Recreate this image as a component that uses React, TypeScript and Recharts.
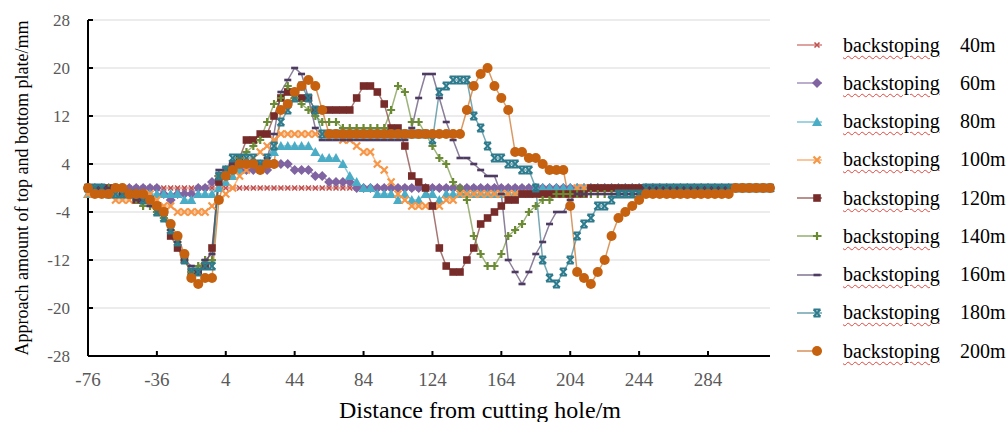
import React from "react";
import { LineChart, Line, XAxis, YAxis, CartesianGrid, Legend } from "recharts";

// distance from cutting hole (m), one category every 4 m
const distance = [
  -76, -72, -68, -64, -60, -56, -52, -48, -44, -40,
  -36, -32, -28, -24, -20, -16, -12, -8, -4, 0,
  4, 8, 12, 16, 20, 24, 28, 32, 36, 40,
  44, 48, 52, 56, 60, 64, 68, 72, 76, 80,
  84, 88, 92, 96, 100, 104, 108, 112, 116, 120,
  124, 128, 132, 136, 140, 144, 148, 152, 156, 160,
  164, 168, 172, 176, 180, 184, 188, 192, 196, 200,
  204, 208, 212, 216, 220, 224, 228, 232, 236, 240,
  244, 248, 252, 256, 260, 264, 268, 272, 276, 280,
  284, 288, 292, 296, 300, 304, 308, 312, 316, 320,
];

const backstoping40 = [
  0, 0, 0, 0, 0, 0, 0, 0, 0, 0,
  0, 0, 0, 0, 0, 0, 0, 0, 0, 0,
  0, 0, 0, 0, 0, 0, 0, 0, 0, 0,
  0, 0, 0, 0, 0, 0, 0, 0, 0, 0,
  0, 0, 0, 0, 0, 0, 0, 0, 0, 0,
  0, 0, 0, 0, 0, 0, 0, 0, 0, 0,
  0, 0, 0, 0, 0, 0, 0, 0, 0, 0,
  0, 0, 0, 0, 0, 0, 0, 0, 0, 0,
  0, 0, 0, 0, 0, 0, 0, 0, 0, 0,
  0, 0, 0, 0, 0, 0, 0, 0, 0, 0,
];

const backstoping60 = [
  0, 0, 0, 0, 0, 0, 0, 0, 0, 0,
  0, -1, -2, -1, -1, -1, 0, 0, 1, 2,
  3, 3, 3, 3, 3, 3, 3, 4, 4, 4,
  3, 3, 3, 2, 2, 1, 1, 1, 1, 0,
  0, 0, 0, 0, 0, 0, 0, 0, 0, 0,
  0, 0, 0, 0, 0, 0, 0, 0, 0, 0,
  0, 0, 0, 0, 0, 0, 0, 0, 0, 0,
  0, 0, 0, 0, 0, 0, 0, 0, 0, 0,
  0, 0, 0, 0, 0, 0, 0, 0, 0, 0,
  0, 0, 0, 0, 0, 0, 0, 0, 0, 0,
];

const backstoping80 = [
  -1, -1, -1, -1, -1, -1, -1, -1, -1, -1,
  -1, -1, -1, -1, -2, -2, -1, -1, -1, 0,
  1, 2, 3, 4, 4, 4, 4, 6, 7, 7,
  7, 7, 7, 6, 5, 5, 5, 4, 2, 1,
  0, 0, -1, -1, -1, -2, -1, -2, -2, -1,
  -1, -2, -1, -1, -1, -1, -1, -1, -1, -1,
  -1, -1, -1, -1, -1, 0, 0, 0, 0, 0,
  0, 0, 0, 0, 0, 0, 0, 0, 0, 0,
  0, 0, 0, 0, 0, 0, 0, 0, 0, 0,
  0, 0, 0, 0, 0, 0, 0, 0, 0, 0,
];

const backstoping100 = [
  -1, -1, -1, -1, -2, -2, -2, -1, -1, -1,
  -2, -3, -3, -4, -4, -4, -4, -4, -3, -2,
  -1, 0, 2, 3, 5, 6, 7, 8, 9, 9,
  9, 9, 9, 9, 9, 9, 9, 8, 8, 7,
  6, 6, 4, 3, 1, -1, -2, -3, -3, -3,
  -3, -3, -2, -2, -1, -1, -1, -1, -1, -1,
  -1, -1, -1, -1, -1, -1, -1, -1, -1, -1,
  -1, 0, 0, 0, 0, 0, 0, 0, 0, 0,
  0, 0, 0, 0, 0, 0, 0, 0, 0, 0,
  0, 0, 0, 0, 0, 0, 0, 0, 0, 0,
];

const backstoping120 = [
  0, 0, 0, 0, 0, -1, -1, -2, -2, -2,
  -3, -4, -8, -10, -12, -14, -14, -13, -10, 1,
  2, 4, 5, 8, 8, 9, 9, 12, 15, 16,
  16, 15, 15, 13, 13, 13, 13, 13, 13, 15,
  17, 17, 16, 14, 10, 10, 7, 2, 1, 0,
  -3, -10, -13, -14, -14, -12, -10, -6, -5, -4,
  -3, -2, -2, -1, -1, -1, -1, -1, -1, -1,
  -1, -1, -1, 0, 0, 0, 0, 0, 0, 0,
  0, 0, 0, 0, 0, 0, 0, 0, 0, 0,
  0, 0, 0, 0, 0, 0, 0, 0, 0, 0,
];

const backstoping140 = [
  0, 0, 0, 0, 0, -1, -1, -2, -3, -3,
  -4, -5, -7, -9, -12, -14, -13, -12, -12, 2,
  3, 3, 5, 6, 7, 8, 11, 14, 15, 17,
  15, 14, 13, 12, 11, 11, 11, 10, 10, 10,
  10, 10, 10, 10, 13, 17, 16, 11, 11, 9,
  7, 5, 4, 1, 0, -2, -8, -11, -13, -13,
  -11, -8, -7, -6, -4, -3, -2, -2, -1, -1,
  -1, -1, -1, -1, -1, -1, -1, -1, -1, -1,
  -1, -1, -1, -1, -1, 0, 0, 0, 0, 0,
  0, 0, 0, 0, 0, 0, 0, 0, 0, 0,
];

const backstoping160 = [
  0, 0, 0, 0, 0, -1, -1, -2, -2, -3,
  -3, -4, -7, -9, -12, -13, -14, -12, -11, 3,
  3, 4, 4, 4, 4, 4, 5, 9, 16, 18,
  20, 19, 15, 10, 8, 8, 8, 8, 8, 8,
  8, 8, 8, 8, 8, 8, 8, 10, 15, 19,
  19, 15, 11, 8, 5, 5, 4, 3, 2, 2,
  -1, -12, -14, -16, -14, -11, -9, -6, -4, -4,
  -2, -1, -1, -1, -1, -1, -1, -1, -1, -1,
  -1, 0, 0, 0, 0, 0, 0, 0, 0, 0,
  0, 0, 0, 0, 0, 0, 0, 0, 0, 0,
];

const backstoping180 = [
  0, 0, 0, -1, -1, -1, -1, -1, -2, -2,
  -4, -5, -7, -9, -12, -14, -14, -13, -13, 2,
  3, 5, 5, 5, 5, 4, 5, 7, 11, 13,
  15, 17, 15, 13, 9, 9, 9, 9, 9, 9,
  9, 9, 9, 9, 9, 9, 9, 9, 9, 9,
  8, 16, 17, 18, 18, 18, 12, 10, 7, 5,
  5, 4, 4, 3, 3, 0, -12, -15, -16, -14,
  -12, -8, -6, -5, -3, -3, -2, -1, -1, -1,
  -1, 0, 0, 0, 0, 0, 0, 0, 0, 0,
  0, 0, 0, 0, 0, 0, 0, 0, 0, 0,
];

const backstoping200 = [
  0, -1, -1, -1, 0, 0, -1, -1, -1, -2,
  -3, -4, -6, -8, -11, -15, -16, -15, -15, -2,
  2, 3, 4, 4, 4, 3, 4, 4, 13, 14,
  16, 17, 18, 17, 13, 9, 9, 9, 9, 9,
  9, 9, 9, 9, 9, 9, 9, 9, 9, 9,
  9, 9, 9, 9, 9, 13, 17, 19, 20, 17,
  15, 13, 6, 6, 5, 5, 4, 3, 3, 3,
  -3, -14, -15, -16, -14, -12, -8, -5, -4, -3,
  -2, -1, -1, -1, -1, -1, -1, -1, -1, -1,
  -1, -1, -1, -1, 0, 0, 0, 0, 0, 0,
];

const yTicks = [-28, -20, -12, -4, 4, 12, 20, 28];

const series = [
  { key: "b40", name: "40m", values: backstoping40, color: "#C0504D", shape: "smallx" },
  { key: "b60", name: "60m", values: backstoping60, color: "#8064A2", shape: "diamond" },
  { key: "b80", name: "80m", values: backstoping80, color: "#4BACC6", shape: "triangle" },
  { key: "b100", name: "100m", values: backstoping100, color: "#F79646", shape: "x" },
  { key: "b120", name: "120m", values: backstoping120, color: "#772C2A", shape: "square" },
  { key: "b140", name: "140m", values: backstoping140, color: "#6A8A33", shape: "plus" },
  { key: "b160", name: "160m", values: backstoping160, color: "#4D3B62", shape: "dash" },
  { key: "b180", name: "180m", values: backstoping180, color: "#2C7A8C", shape: "star" },
  { key: "b200", name: "200m", values: backstoping200, color: "#C6620F", shape: "circle" },
];

const data = distance.map((x, i) => {
  const row: Record<string, number> = { x };
  series.forEach((s) => {
    row[s.key] = s.values[i];
  });
  return row;
});

const serif = "'Liberation Serif', 'Times New Roman', serif";

const Marker = ({ shape, cx, cy, color }: { shape: string; cx: number; cy: number; color: string }) => {
  switch (shape) {
    case "smallx":
      return (
        <path
          d={`M${cx - 2.5},${cy - 2.5}L${cx + 2.5},${cy + 2.5}M${cx - 2.5},${cy + 2.5}L${cx + 2.5},${cy - 2.5}`}
          stroke={color}
          strokeWidth={1.6}
        />
      );
    case "diamond":
      return <path d={`M${cx},${cy - 5}L${cx + 5},${cy}L${cx},${cy + 5}L${cx - 5},${cy}Z`} fill={color} />;
    case "triangle":
      return <path d={`M${cx},${cy - 5}L${cx + 5},${cy + 4}L${cx - 5},${cy + 4}Z`} fill={color} />;
    case "x":
      return (
        <path
          d={`M${cx - 3.5},${cy - 3.5}L${cx + 3.5},${cy + 3.5}M${cx - 3.5},${cy + 3.5}L${cx + 3.5},${cy - 3.5}`}
          stroke={color}
          strokeWidth={2.2}
        />
      );
    case "square":
      return <rect x={cx - 3.8} y={cy - 3.8} width={7.6} height={7.6} fill={color} />;
    case "plus":
      return (
        <path
          d={`M${cx - 4},${cy}L${cx + 4},${cy}M${cx},${cy - 4}L${cx},${cy + 4}`}
          stroke={color}
          strokeWidth={2.2}
        />
      );
    case "dash":
      return <rect x={cx - 3.5} y={cy - 1.3} width={7} height={2.6} fill={color} />;
    case "star":
      return (
        <path
          d={`M${cx - 3.5},${cy - 3.5}L${cx + 3.5},${cy + 3.5}M${cx - 3.5},${cy + 3.5}L${cx + 3.5},${cy - 3.5}M${cx - 3.5},${cy - 3.5}L${cx + 3.5},${cy - 3.5}M${cx - 3.5},${cy + 3.5}L${cx + 3.5},${cy + 3.5}`}
          stroke={color}
          strokeWidth={1.8}
        />
      );
    default:
      return <circle cx={cx} cy={cy} r={5} fill={color} />;
  }
};

const renderDot = (shape: string, color: string) => (props: any) => (
  <Marker key={`${shape}-${props.index}`} shape={shape} cx={props.cx} cy={props.cy} color={color} />
);

const LegendBox = () => (
  <div style={{ fontFamily: serif, fontSize: 20, color: "#000" }}>
    {series.map((s) => (
      <div key={s.key} style={{ position: "relative", height: 38.25, display: "flex", alignItems: "center" }}>
        <svg width={30} height={20} style={{ flex: "none" }}>
          <line x1={2} y1={10} x2={27} y2={10} stroke={s.color} strokeOpacity={0.7} strokeWidth={1.5} />
          <Marker shape={s.shape} cx={22} cy={10} color={s.color} />
        </svg>
        <span
          style={{
            marginLeft: 18,
            textDecoration: "underline wavy #E0473F",
            textDecorationThickness: "1px",
            textUnderlineOffset: "3px",
          }}
        >
          backstoping
        </span>
        <span style={{ position: "absolute", left: 165 }}>{s.name}</span>
      </div>
    ))}
  </div>
);

export default function App() {
  return (
    <div style={{ position: "absolute", left: 0, top: 0, background: "#fff" }}>
      <LineChart width={1007} height={422} data={data} margin={{ top: 20, right: 237, bottom: 0, left: 0 }}>
        <CartesianGrid horizontal vertical={false} stroke="#D9D9D9" strokeWidth={1} />
        <XAxis
          dataKey="x"
          interval={9}
          height={66}
          tickSize={-5}
          tickMargin={22}
          axisLine={{ stroke: "#000", strokeWidth: 2 }}
          tickLine={{ stroke: "#000", strokeWidth: 2 }}
          tick={{ fill: "#595959", fontSize: 19, fontFamily: serif }}
          label={{
            content: () => (
              <text x={480} y={418} textAnchor="middle" fontFamily={serif} fontSize={24} fill="#000">
                Distance from cutting hole/m
              </text>
            ),
          }}
        />
        <YAxis
          type="number"
          domain={[-28, 28]}
          ticks={yTicks}
          width={88}
          tickSize={-5}
          tickMargin={23}
          axisLine={{ stroke: "#000", strokeWidth: 2 }}
          tickLine={{ stroke: "#000", strokeWidth: 2 }}
          tick={{ fill: "#595959", fontSize: 17, fontFamily: serif }}
          label={{
            content: () => (
              <text
                x={22}
                y={188}
                transform="rotate(-90 22 188)"
                textAnchor="middle"
                dominantBaseline="central"
                fontFamily={serif}
                fontSize={18}
                fill="#000"
              >
                Approach amount of top and bottom plate/mm
              </text>
            ),
          }}
        />
        <Legend
          layout="vertical"
          align="center"
          verticalAlign="middle"
          wrapperStyle={{ left: 795, top: 26, width: 212 }}
          content={() => <LegendBox />}
        />
        {series.map((s) => (
          <Line
            key={s.key}
            dataKey={s.key}
            name={s.name}
            type="linear"
            stroke={s.color}
            strokeOpacity={0.65}
            strokeWidth={1.5}
            dot={renderDot(s.shape, s.color)}
            activeDot={false}
            isAnimationActive={false}
          />
        ))}
      </LineChart>
    </div>
  );
}
